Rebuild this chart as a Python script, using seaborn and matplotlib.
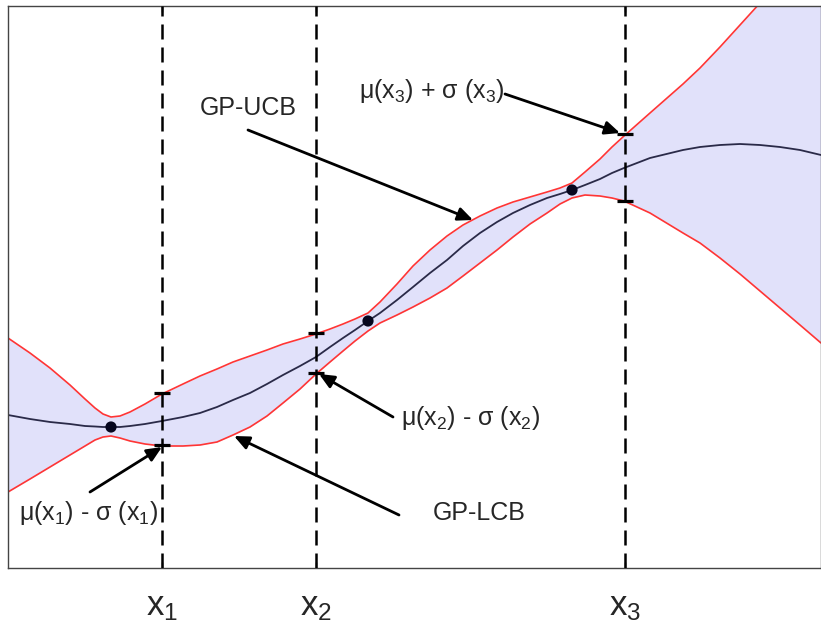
import matplotlib
matplotlib.use("Agg")
import matplotlib.pyplot as plt
import seaborn as sns
import pandas as pd

# values (x: 0..813 across the axes, y: 0..562 up from the bottom)
x_grid = [0, 22, 42, 62, 77, 87, 95, 103, 112, 122, 137, 154, 175, 192, 209, 225, 242, 259,
          275, 292, 308, 322, 335, 347, 360, 372, 389, 405, 422, 439, 455, 472, 489, 505, 522,
          539, 552, 564, 577, 592, 604, 616, 642, 675, 692, 712, 732, 752, 772, 792, 813]
upper = [230, 215, 200, 183, 169, 160, 154, 151, 152, 156, 164, 174, 184, 192, 199, 206, 212, 218,
         224, 229, 234, 239, 244, 249, 255, 266, 284, 302, 318, 332, 343, 352, 360, 366, 371,
         376, 380, 385, 396, 409, 421, 432, 455, 484, 500, 521, 543, 565, 588, 611, 634]
mean = [153, 149, 146, 144, 142, 141.5, 141, 141, 141, 142, 144, 147, 151, 155, 161, 168, 175, 184,
        193, 202, 211, 221, 230, 238, 247, 255, 268, 281, 295, 308, 322, 335, 346, 355, 363,
        370, 374, 378, 383, 389, 395, 400, 410, 418, 421, 423, 424, 423, 421, 418, 413]
lower = [76, 89, 101, 113, 122, 128, 131, 132, 130, 127, 124, 122, 122, 123, 126, 133, 141, 152,
         165, 179, 194, 206, 217, 227, 237, 245, 253, 261, 270, 280, 292, 305, 318, 331, 344,
         355, 364, 370, 373, 372, 370, 367, 355, 335, 325, 310, 294, 277, 260, 243, 225]

obs_x = [103, 360, 564]
obs_y = [141, 247, 378]

query_x = [154, 308, 617]
query_upper = [175, 235, 434]
query_lower = [123, 195, 367]
query_labels = ['x$_1$', 'x$_2$', 'x$_3$']

sns.set_style("ticks")
plt.rcParams['font.family'] = ['Liberation Sans', 'DejaVu Sans']
plt.rcParams['mathtext.fontset'] = 'custom'
plt.rcParams['mathtext.rm'] = 'Liberation Sans'
plt.rcParams['mathtext.it'] = 'Liberation Sans'

df = pd.DataFrame({'x': x_grid, 'upper': upper, 'mean': mean, 'lower': lower})
obs = pd.DataFrame({'x': obs_x, 'y': obs_y})

fig = plt.figure(figsize=(8.21, 6.27), dpi=100)
ax = fig.add_axes([8 / 821, 59 / 627, 813 / 821, 562 / 627])

red = '#ff3535'
ax.fill_between(df['x'], df['lower'], df['upper'], color='#e1e1fa', lw=0)
sns.lineplot(data=df, x='x', y='upper', color=red, lw=1.2, ax=ax)
sns.lineplot(data=df, x='x', y='lower', color=red, lw=1.2, ax=ax)
ax.vlines(x_grid[0], lower[0], upper[0], color=red, lw=1.2)
sns.lineplot(data=df, x='x', y='mean', color='#2a2a48', lw=1.3, ax=ax)

for xq in query_x:
    ax.axvline(xq, color='black', lw=1.8, ls=(0, (6, 3.2)), zorder=3)

ax.plot(query_x, query_upper, ls='none', marker='_', ms=12, mew=2.3, color='black', zorder=4)
ax.plot(query_x, query_lower, ls='none', marker='_', ms=12, mew=2.3, color='black', zorder=4)

sns.scatterplot(data=obs, x='x', y='y', color='#06061e', s=65, edgecolor='none', zorder=5, ax=ax)

arrow = dict(arrowstyle='-|>,head_length=0.9,head_width=0.4', color='black', lw=2,
             shrinkA=0, shrinkB=0)
notes = [
    ('GP-UCB', (240, 460), (240, 438), (465, 348)),
    ('μ(x$_3$) + σ (x$_3$)', (424, 477), (497, 474), (612, 435)),
    ('μ(x$_2$) - σ (x$_2$)', (463, 150), (385, 151), (311, 194)),
    ('GP-LCB', (471, 55), (391, 53), (226, 132)),
    ('μ(x$_1$) - σ (x$_1$)', (81, 55), (82, 76), (154, 121)),
]
for label, pos, start, tip in notes:
    ax.text(pos[0], pos[1], label, fontsize=18, ha='center', va='center', zorder=6)
    ax.annotate('', xy=tip, xytext=start, arrowprops=arrow, zorder=6)

ax.set_xlim(0, 813)
ax.set_ylim(0, 562)
ax.set_xticks(query_x)
ax.set_xticklabels(query_labels, fontsize=25)
ax.set_yticks([])
ax.tick_params(axis='x', direction='in', top=True, bottom=True, length=4, width=1, pad=16)
ax.set_xlabel('')
ax.set_ylabel('')
for s in ax.spines.values():
    s.set_color('#444444')
    s.set_linewidth(1)

fig.savefig('out.png', dpi=100)
